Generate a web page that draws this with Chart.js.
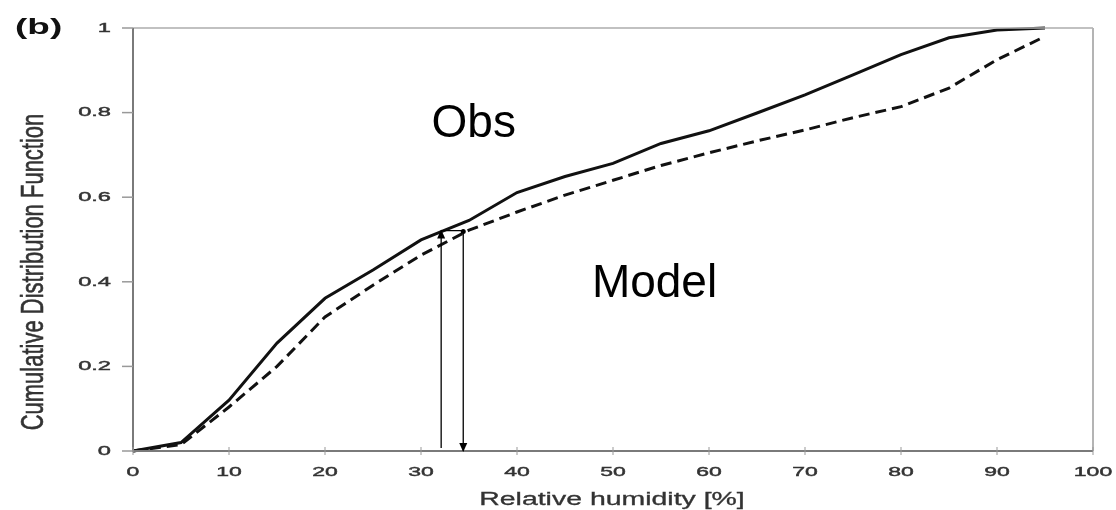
<!DOCTYPE html>
<html>
<head>
<meta charset="utf-8">
<script src="https://cdn.jsdelivr.net/npm/chart.js@4/dist/chart.umd.min.js"></script>
<style>
  html, body { margin: 0; padding: 0; background: #fff; }
  #chart { display: block; }
</style>
</head>
<body>
<canvas id="chart" width="1116" height="510"></canvas>
<script>
// relative humidity bins [%]
const humidity = [0, 5, 10, 15, 20, 25, 30, 35, 40, 45, 50, 55, 60, 65, 70, 75, 80, 85, 90, 95];
// cumulative distribution, observations (solid)
const obsCdf = [0, 0.02, 0.12, 0.255, 0.361, 0.428, 0.499, 0.545, 0.611, 0.649, 0.68, 0.727, 0.757, 0.799, 0.842, 0.889, 0.937, 0.977, 0.995, 1.0];
// cumulative distribution, model (dashed)
const modelCdf = [0, 0.015, 0.104, 0.2, 0.317, 0.392, 0.463, 0.522, 0.565, 0.605, 0.64, 0.675, 0.705, 0.733, 0.759, 0.788, 0.814, 0.858, 0.925, 0.98];

const xTicks = [0, 10, 20, 30, 40, 50, 60, 70, 80, 90, 100];
const yTicks = [0, 0.2, 0.4, 0.6, 0.8, 1];
const yTickLabels = ['0', '0.2', '0.4', '0.6', '0.8', '1'];

// the two vertical arrows: up to Obs, down from Model
const arrowX = [32.1, 34.4];
const arrowTop = 0.521;

const FONT = '"Liberation Sans", Arial, Helvetica, sans-serif';

function toPoints(xs, ys) {
  return xs.map((x, i) => ({ x: x, y: ys[i] }));
}

// wide, slightly heavy text like the printed axis labels
function stretchedText(ctx, text, x, y, sx, align, weight) {
  ctx.save();
  ctx.translate(x, y);
  ctx.scale(sx, 1);
  ctx.textAlign = align;
  ctx.fillText(text, 0, 0);
  if (weight) {
    ctx.lineWidth = weight;
    ctx.strokeStyle = ctx.fillStyle;
    ctx.strokeText(text, 0, 0);
  }
  ctx.restore();
}

function arrowHead(ctx, x, y, dir) {
  // dir = -1 points up, 1 points down
  ctx.beginPath();
  ctx.moveTo(x, y);
  ctx.lineTo(x - 4, y - dir * 9);
  ctx.lineTo(x + 4, y - dir * 9);
  ctx.closePath();
  ctx.fill();
}

const framePlugin = {
  id: 'frame',
  afterDatasetsDraw(chart) {
    const ctx = chart.ctx;
    const xs = chart.scales.x;
    const ys = chart.scales.y;
    const a = chart.chartArea;

    ctx.save();
    // box: light top and right, darker axes
    ctx.lineWidth = 1.5;
    ctx.strokeStyle = '#acacac';
    ctx.beginPath();
    ctx.moveTo(a.left, a.top);
    ctx.lineTo(a.right, a.top);
    ctx.stroke();
    ctx.lineWidth = 2;
    ctx.strokeStyle = '#b4b4b4';
    ctx.beginPath();
    ctx.moveTo(a.right, a.top);
    ctx.lineTo(a.right, a.bottom);
    ctx.stroke();

    ctx.strokeStyle = '#7a7a7a';
    ctx.lineWidth = 2;
    ctx.beginPath();
    ctx.moveTo(a.left, a.top);
    ctx.lineTo(a.left, a.bottom);
    ctx.lineTo(a.right, a.bottom);
    ctx.stroke();

    // tick marks
    ctx.strokeStyle = '#999';
    ctx.lineWidth = 1.5;
    yTicks.forEach(v => {
      const py = ys.getPixelForValue(v);
      ctx.beginPath();
      ctx.moveTo(a.left - 11, py);
      ctx.lineTo(a.left, py);
      ctx.stroke();
    });
    ctx.lineWidth = 1;
    xTicks.forEach(v => {
      const px = xs.getPixelForValue(v);
      ctx.beginPath();
      ctx.moveTo(px, a.bottom - 4);
      ctx.lineTo(px, a.bottom + 4);
      ctx.stroke();
    });

    // tick labels
    ctx.fillStyle = '#333';
    ctx.font = '13.5px ' + FONT;
    ctx.textBaseline = 'middle';
    yTicks.forEach((v, i) => {
      stretchedText(ctx, yTickLabels[i], 111, ys.getPixelForValue(v), 1.75, 'right', 0.45);
    });
    ctx.textBaseline = 'alphabetic';
    xTicks.forEach(v => {
      stretchedText(ctx, String(v), xs.getPixelForValue(v), 475.5, 1.7, 'center', 0.45);
    });

    // axis titles
    ctx.fillStyle = '#333';
    ctx.font = '18px ' + FONT;
    stretchedText(ctx, 'Relative humidity [%]', 612, 505, 1.58, 'center', 0.3);

    ctx.save();
    ctx.font = '22px ' + FONT;
    ctx.translate(43, 272);
    ctx.rotate(-Math.PI / 2);
    ctx.scale(1, 1.45);
    ctx.textAlign = 'center';
    ctx.fillText('Cumulative Distribution Function', 0, 0);
    ctx.lineWidth = 0.4;
    ctx.strokeStyle = ctx.fillStyle;
    ctx.strokeText('Cumulative Distribution Function', 0, 0);
    ctx.restore();

    // panel tag
    ctx.fillStyle = '#111';
    ctx.font = 'bold 22px ' + FONT;
    stretchedText(ctx, '(b)', 15, 34, 1.68, 'left');

    // arrows between the curves
    const xl = xs.getPixelForValue(arrowX[0]);
    const xr = xs.getPixelForValue(arrowX[1]);
    const yt = ys.getPixelForValue(arrowTop);
    const y0 = ys.getPixelForValue(0);
    ctx.strokeStyle = '#000';
    ctx.fillStyle = '#000';
    ctx.lineWidth = 1.3;
    ctx.beginPath();
    ctx.moveTo(xl, y0 - 3);
    ctx.lineTo(xl, yt);
    ctx.moveTo(xl, yt);
    ctx.lineTo(xr, yt);
    ctx.moveTo(xr, yt);
    ctx.lineTo(xr, y0);
    ctx.stroke();
    arrowHead(ctx, xl, yt - 1, -1);
    arrowHead(ctx, xr, y0 + 1, 1);
    ctx.beginPath();
    ctx.arc(xr, yt + 1, 2.5, 0, Math.PI * 2);
    ctx.fill();

    // curve names
    ctx.font = '46px ' + FONT;
    ctx.textAlign = 'left';
    ctx.fillStyle = '#000';
    ctx.fillText('Obs', xs.getPixelForValue(31.1), ys.getPixelForValue(0.743));
    ctx.fillText('Model', xs.getPixelForValue(47.8), ys.getPixelForValue(0.364));
    ctx.restore();
  }
};

new Chart(document.getElementById('chart'), {
  type: 'line',
  data: {
    datasets: [
      {
        label: 'Obs',
        data: toPoints(humidity, obsCdf),
        borderColor: '#111',
        borderWidth: 3,
        pointRadius: 0,
        tension: 0,
        clip: false
      },
      {
        label: 'Model',
        data: toPoints(humidity, modelCdf),
        borderColor: '#111',
        borderWidth: 3,
        borderDash: [11, 6],
        pointRadius: 0,
        tension: 0,
        clip: false
      }
    ]
  },
  options: {
    responsive: false,
    devicePixelRatio: 1,
    animation: false,
    layout: { padding: { left: 133, right: 23, top: 28, bottom: 59 } },
    plugins: { legend: { display: false }, tooltip: { enabled: false } },
    scales: {
      x: { type: 'linear', min: 0, max: 100, display: false },
      y: { type: 'linear', min: 0, max: 1, display: false }
    }
  },
  plugins: [framePlugin]
});
</script>
</body>
</html>
